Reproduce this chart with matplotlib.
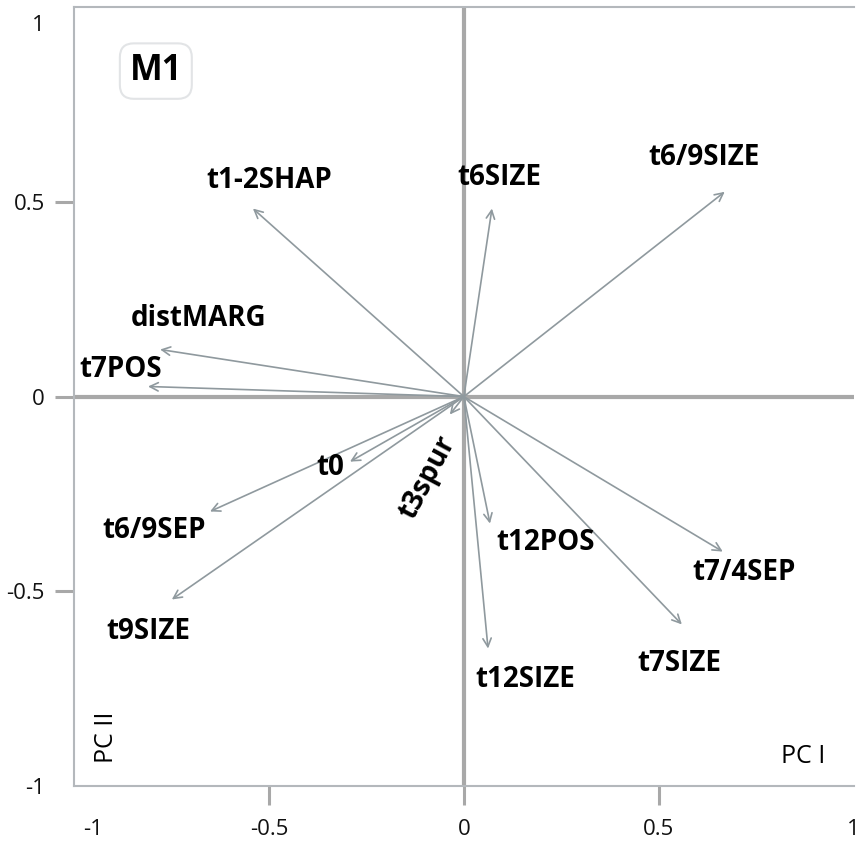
import matplotlib
matplotlib.use("Agg")
import matplotlib.pyplot as plt
from matplotlib.transforms import ScaledTranslation

# Loadings of each variable on PC I / PC II
variables = ["t1-2SHAP", "t6SIZE", "t6/9SIZE", "distMARG", "t7POS", "t0",
             "t6/9SEP", "t9SIZE", "t3spur", "t12POS", "t12SIZE", "t7SIZE", "t7/4SEP"]
pc1 = [-0.541, 0.072, 0.669, -0.779, -0.810, -0.292,
       -0.651, -0.749, -0.036, 0.067, 0.062, 0.559, 0.664]
pc2 = [0.483, 0.483, 0.526, 0.121, 0.026, -0.167,
       -0.295, -0.521, -0.046, -0.326, -0.647, -0.585, -0.398]

# label offsets (points) from arrow tip, and rotation
label_dx = [12, 5, -15, 28, -20, -14, -40, -17, -16, 40, 27, -2, 15]
label_dy = [20, 22, 25, 22, 12, -4, -14, -23, -45, -14, -22, -28, -15]
label_rot = [0, 0, 0, 0, 0, 0, 0, 0, 62, 0, 0, 0, 0]

tick_vals = [-1, -0.5, 0, 0.5, 1]
tick_text = ["-1", "-0.5", "0", "0.5", "1"]

plt.rcParams['font.family'] = ['Open Sans', 'DejaVu Sans']

fig = plt.figure(figsize=(8.56, 8.41), dpi=100)
ax = fig.add_axes([0.0864, 0.0654, 0.911, 0.926])
ax.set_xlim(-1, 1.0)
ax.set_ylim(-1, 1)

spine_col = "#b4b8bc"
for s in ["left", "bottom", "top"]:
    ax.spines[s].set_color(spine_col)
    ax.spines[s].set_linewidth(1.5)
ax.spines["right"].set_visible(False)

# zero lines
ax.axhline(0, color="#a8a8a8", lw=3, zorder=1)
ax.axvline(0, color="#a8a8a8", lw=3, zorder=1)

ax.set_xticks(tick_vals)
ax.set_xticklabels(tick_text)
ax.set_yticks(tick_vals)
ax.set_yticklabels(tick_text)
ax.tick_params(axis="both", which="major", length=14, width=2.2, color="#a8a8a8",
               labelsize=16, direction="out", labelcolor="#111111")
ax.tick_params(axis="x", pad=9.5)
ax.tick_params(axis="y", pad=7)
for t, v in zip(ax.xaxis.get_major_ticks(), tick_vals):
    if abs(v) == 1:
        t.tick1line.set_visible(False)
for t, v in zip(ax.yaxis.get_major_ticks(), tick_vals):
    if abs(v) == 1:
        t.tick1line.set_visible(False)

# nudge the end labels inward
xl = ax.get_xticklabels()
xl[0].set_transform(xl[0].get_transform() + ScaledTranslation(14 / 72, 0, fig.dpi_scale_trans))
yl = ax.get_yticklabels()
yl[-1].set_transform(yl[-1].get_transform() + ScaledTranslation(0, -11 / 72, fig.dpi_scale_trans))

arrow_col = "#8f999e"
for name, x, y, dx, dy, rot in zip(variables, pc1, pc2, label_dx, label_dy, label_rot):
    ax.annotate("", xy=(x, y), xytext=(0, 0),
                arrowprops=dict(arrowstyle="->,head_length=0.6,head_width=0.3",
                                color=arrow_col, lw=1.2, shrinkA=0, shrinkB=0),
                zorder=3)
    ax.annotate(name, xy=(x, y), xytext=(dx, dy), textcoords="offset points",
                ha="center", va="center", fontsize=20, fontweight="bold",
                rotation=rot, color="black", zorder=4)

# model tag
ax.text(0.105, 0.918, "M1", transform=ax.transAxes, ha="center", va="center",
        fontsize=25, fontweight="bold",
        bbox=dict(boxstyle="round,pad=0.28,rounding_size=0.4", fc="white",
                  ec="#e2e4e6", lw=1.5))

ax.text(0.042, 0.062, "PC II", transform=ax.transAxes, rotation=90,
        ha="center", va="center", fontsize=18)
ax.text(0.935, 0.038, "PC I", transform=ax.transAxes,
        ha="center", va="center", fontsize=18)

fig.savefig("out.png", dpi=100)
